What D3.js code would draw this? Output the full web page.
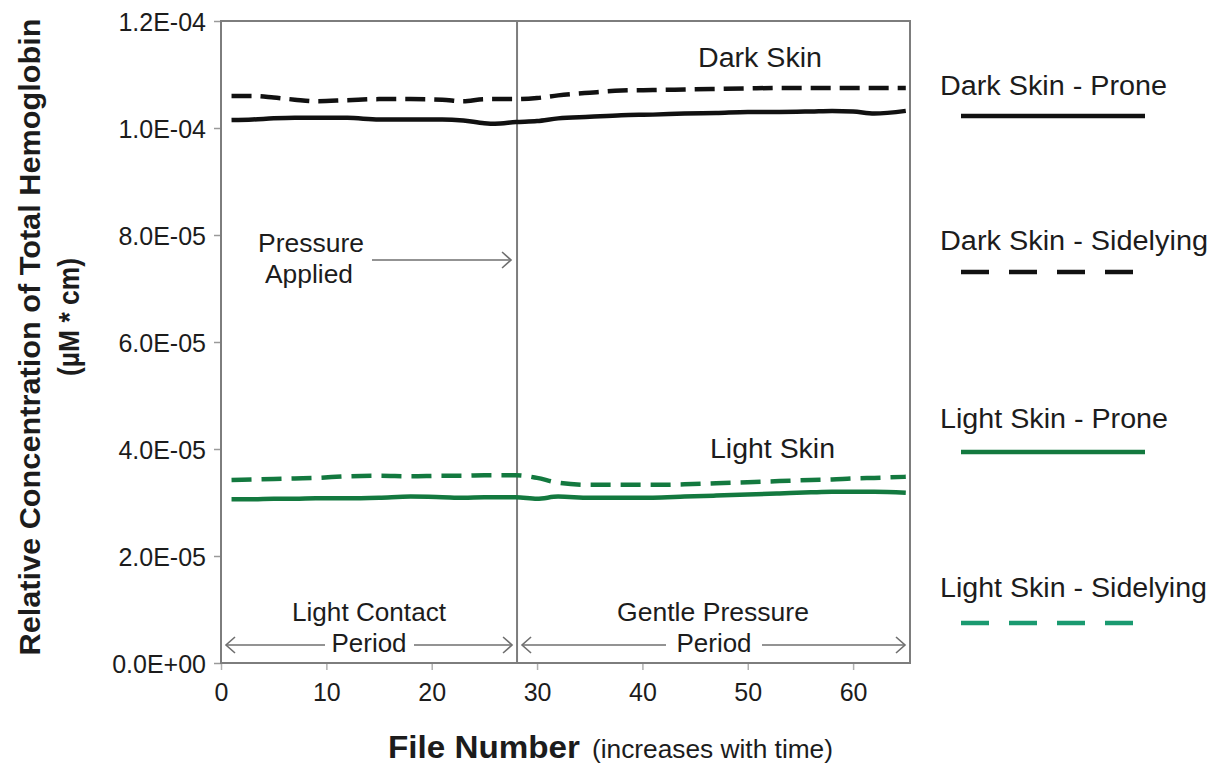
<!DOCTYPE html>
<html>
<head>
<meta charset="utf-8">
<script src="https://cdn.jsdelivr.net/npm/d3@7"></script>
<style>
  body { margin: 0; background: #fff; }
  svg { display: block; }
  text { font-family: "Liberation Sans", Arial, Helvetica, sans-serif; fill: #1c1c1c; }
</style>
</head>
<body>
<svg id="chart" width="1215" height="772"></svg>
<script>
// File numbers at which the total hemoglobin signal is plotted
const fileNumbers = [1, 3, 5, 7, 9, 12, 15, 18, 21, 23, 25, 26, 28, 30, 32, 35, 38, 41, 44, 47, 50, 53, 56, 58, 60, 62, 65];

// Relative concentration of total hemoglobin (µM * cm)
const darkProne = [101.5e-6, 101.6e-6, 101.8e-6, 101.9e-6, 101.9e-6, 101.9e-6, 101.6e-6, 101.6e-6, 101.6e-6, 101.4e-6,
  100.9e-6, 100.8e-6, 101.1e-6, 101.3e-6, 101.8e-6, 102.1e-6, 102.4e-6, 102.5e-6, 102.7e-6, 102.8e-6,
  103.0e-6, 103.0e-6, 103.1e-6, 103.2e-6, 103.1e-6, 102.7e-6, 103.2e-6];
const darkSidelying = [106.0e-6, 106.0e-6, 105.7e-6, 105.3e-6, 105.0e-6, 105.2e-6, 105.4e-6, 105.4e-6, 105.3e-6, 105.0e-6,
  105.4e-6, 105.4e-6, 105.4e-6, 105.6e-6, 106.1e-6, 106.6e-6, 107.0e-6, 107.1e-6, 107.2e-6, 107.3e-6,
  107.4e-6, 107.5e-6, 107.5e-6, 107.5e-6, 107.5e-6, 107.5e-6, 107.5e-6];
const lightProne = [30.6e-6, 30.6e-6, 30.7e-6, 30.7e-6, 30.8e-6, 30.8e-6, 30.9e-6, 31.1e-6, 31.0e-6, 30.9e-6,
  31.0e-6, 31.0e-6, 31.0e-6, 30.7e-6, 31.1e-6, 30.9e-6, 30.9e-6, 30.9e-6, 31.1e-6, 31.3e-6,
  31.5e-6, 31.7e-6, 31.9e-6, 32.0e-6, 32.0e-6, 32.0e-6, 31.8e-6];
const lightSidelying = [34.2e-6, 34.3e-6, 34.4e-6, 34.5e-6, 34.6e-6, 34.9e-6, 35.0e-6, 34.9e-6, 35.0e-6, 35.0e-6,
  35.1e-6, 35.1e-6, 35.1e-6, 34.6e-6, 33.7e-6, 33.3e-6, 33.3e-6, 33.3e-6, 33.4e-6, 33.6e-6,
  33.8e-6, 34.0e-6, 34.2e-6, 34.3e-6, 34.5e-6, 34.6e-6, 34.8e-6];

const seriesNames = ["Dark Skin - Prone", "Dark Skin - Sidelying", "Light Skin - Prone", "Light Skin - Sidelying"];

// Axis ticks
const xTicks = [0, 10, 20, 30, 40, 50, 60];
const yTicks = [0, 2e-5, 4e-5, 6e-5, 8e-5, 1.0e-4, 1.2e-4];
const xMax = 65.4;
const pressureFile = 28.1; // file at which pressure is applied

const svg = d3.select("#chart");
const W = 1215, H = 772;
svg.append("rect").attr("width", W).attr("height", H).attr("fill", "#fff");

const x = d3.scaleLinear().domain([0, xMax]).range([221, 910]);
const y = d3.scaleLinear().domain([0, 1.2e-4]).range([663, 21]);

const frameColor = "#7d7d7d";
const annColor = "#6f6f6f";

// Excel-style scientific labels, e.g. 1.2E-04
function sci(v) {
  const [m, e] = v.toExponential(1).split("e");
  const n = +e;
  return m + "E" + (n < 0 ? "-" : "+") + String(Math.abs(n)).padStart(2, "0");
}

// Y axis
const yAxis = svg.append("g")
  .attr("transform", `translate(${x(0)},0)`)
  .call(d3.axisLeft(y).tickValues(yTicks).tickFormat(sci).tickSize(7).tickPadding(8));
yAxis.select(".domain").remove();
yAxis.selectAll(".tick line").attr("stroke", "#9a9a9a").attr("stroke-width", 1.5);
yAxis.selectAll(".tick text")
  .attr("font-size", 25).attr("fill", "#1c1c1c")
  .attr("font-family", '"Liberation Sans", Arial, sans-serif')
  .attr("dy", "0.36em");

// X axis
const xAxis = svg.append("g")
  .attr("transform", `translate(0,${y(0)})`)
  .call(d3.axisBottom(x).tickValues(xTicks).tickFormat(d3.format("d")).tickSize(7).tickPadding(13));
xAxis.select(".domain").remove();
xAxis.selectAll(".tick line").attr("stroke", "#b0b0b0").attr("stroke-width", 1.5);
xAxis.selectAll(".tick text")
  .attr("font-size", 25).attr("fill", "#1c1c1c")
  .attr("font-family", '"Liberation Sans", Arial, sans-serif')
  .attr("dy", "0.71em");

// Plot frame
svg.append("rect")
  .attr("x", x(0)).attr("y", y(1.2e-4))
  .attr("width", x(xMax) - x(0)).attr("height", y(0) - y(1.2e-4))
  .attr("fill", "none").attr("stroke", frameColor).attr("stroke-width", 2);

// Divider where pressure starts
svg.append("line")
  .attr("x1", x(pressureFile)).attr("x2", x(pressureFile))
  .attr("y1", y(1.2e-4)).attr("y2", y(0))
  .attr("stroke", frameColor).attr("stroke-width", 2);

// Series lines
const series = [
  { name: seriesNames[0], values: darkProne, color: "#111111", dash: null, legendColor: "#111111" },
  { name: seriesNames[1], values: darkSidelying, color: "#111111", dash: "20,9", legendColor: "#111111" },
  { name: seriesNames[2], values: lightProne, color: "#13793f", dash: null, legendColor: "#13793f" },
  { name: seriesNames[3], values: lightSidelying, color: "#13793f", dash: "20,10", legendColor: "#1a9a70" }
];

const line = d3.line()
  .x((d, i) => x(fileNumbers[i]))
  .y(d => y(d))
  .curve(d3.curveMonotoneX);

svg.append("g").selectAll("path")
  .data(series)
  .join("path")
  .attr("d", s => line(s.values))
  .attr("fill", "none")
  .attr("stroke", s => s.color)
  .attr("stroke-width", 4.5)
  .attr("stroke-linejoin", "round")
  .attr("stroke-dasharray", s => s.dash);

// Text helper with fixed rendered width
function label(g, str, px, py, opts = {}) {
  const t = g.append("text")
    .attr("x", px).attr("y", py)
    .attr("font-size", opts.size || 26)
    .attr("font-weight", opts.weight || "normal")
    .attr("text-anchor", opts.anchor || "start")
    .text(str);
  if (opts.len) t.attr("textLength", opts.len).attr("lengthAdjust", "spacingAndGlyphs");
  return t;
}

const ann = svg.append("g");

// Group labels
label(ann, "Dark Skin", 698, 67, { size: 27, len: 124 });
label(ann, "Light Skin", 710, 458, { size: 27, len: 125 });

// Pressure applied note
label(ann, "Pressure", 311, 252, { size: 26, anchor: "middle", len: 106 });
label(ann, "Applied", 309, 283, { size: 26, anchor: "middle", len: 88 });

function arrowLine(x1, x2, yy) {
  ann.append("line").attr("x1", x1).attr("x2", x2).attr("y1", yy).attr("y2", yy)
    .attr("stroke", annColor).attr("stroke-width", 1.6);
}
function head(tip, yy, dir) {
  // dir = 1 points right, -1 points left
  ann.append("path")
    .attr("d", `M${tip - dir * 9},${yy - 8} L${tip},${yy} L${tip - dir * 9},${yy + 8}`)
    .attr("fill", "none").attr("stroke", annColor).attr("stroke-width", 1.6);
}

const yPress = 260;
arrowLine(372, x(pressureFile) - 6, yPress);
head(x(pressureFile) - 6, yPress, 1);

// Period annotations
const yPer = 645;
label(ann, "Light Contact", 369, 621, { size: 26, anchor: "middle", len: 154 });
label(ann, "Period", 369, 652, { size: 26, anchor: "middle", len: 75 });
arrowLine(x(0) + 5, 325, yPer); head(x(0) + 5, yPer, -1);
arrowLine(414, x(pressureFile) - 5, yPer); head(x(pressureFile) - 5, yPer, 1);

label(ann, "Gentle Pressure", 713, 621, { size: 26, anchor: "middle", len: 192 });
label(ann, "Period", 714, 652, { size: 26, anchor: "middle", len: 75 });
arrowLine(x(pressureFile) + 5, 666, yPer); head(x(pressureFile) + 5, yPer, -1);
arrowLine(762, x(xMax) - 5, yPer); head(x(xMax) - 5, yPer, 1);

// Axis titles
label(svg, "File Number", 388, 758, { size: 31, weight: "bold", len: 192 });
label(svg, "(increases with time)", 592, 758, { size: 25, len: 241 });

label(svg.append("g").attr("transform", "translate(40,337) rotate(-90)"),
  "Relative Concentration of Total Hemoglobin", 0, 0, { size: 30, weight: "bold", anchor: "middle", len: 637 });
label(svg.append("g").attr("transform", "translate(79,317) rotate(-90)"),
  "(µM * cm)", 0, 0, { size: 30, weight: "bold", anchor: "middle", len: 118 });

// Legend
const legendRows = [
  { textY: 95, lineY: 116, len: 227 },
  { textY: 250, lineY: 272, len: 268 },
  { textY: 428, lineY: 452, len: 228 },
  { textY: 597, lineY: 623, len: 267 }
];
const legend = svg.append("g");
series.forEach((s, i) => {
  const r = legendRows[i];
  label(legend, s.name, 940, r.textY, { size: 27, len: r.len });
  legend.append("line")
    .attr("x1", 961).attr("x2", s.dash ? 1136 : 1145)
    .attr("y1", r.lineY).attr("y2", r.lineY)
    .attr("stroke", s.legendColor).attr("stroke-width", 4.5)
    .attr("stroke-dasharray", s.dash ? "28,20" : null);
});
</script>
</body>
</html>
